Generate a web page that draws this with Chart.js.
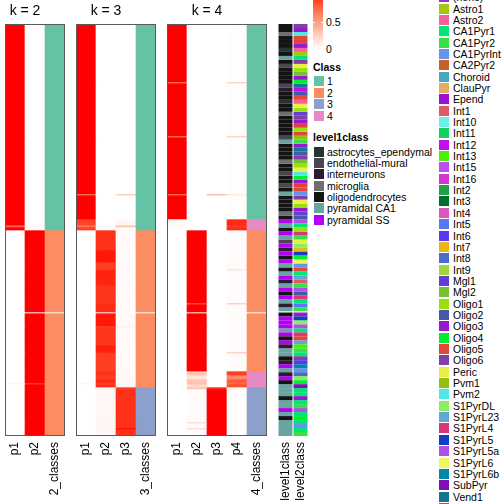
<!DOCTYPE html>
<html>
<head>
<meta charset="utf-8">
<script src="https://cdn.jsdelivr.net/npm/chart.js@4.4.1/dist/chart.umd.min.js"></script>
<style>
  body { margin: 0; background: #fff; }
  #wrap { position: relative; width: 504px; height: 504px; overflow: hidden; font-family: "Liberation Sans", Arial, sans-serif; }
  #wrap canvas { position: absolute; top: 0; }
  .lg { position: absolute; font-size: 10.5px; line-height: 12px; color: #000; white-space: nowrap; }
  .lg.bold { font-weight: bold; }
  .sw { position: absolute; width: 10px; height: 10px; }
</style>
</head>
<body>
<div id="wrap"></div>
<script>
// Globals.
const FONT = '"Liberation Sans", Arial, sans-serif';
const wrap = document.getElementById('wrap');

// Row blocks of the consensus heatmap (cells per block, top to bottom).
const segHeights = [58, 1, 53, 1, 57, 1, 24, 6, 2, 3, 20, 12, 7, 1, 15, 18, 1, 8, 1, 13, 1, 18, 7, 1, 18, 4, 4, 4, 1, 3, 2, 33, 1, 5, 1, 7];

// Membership probabilities per block, and class per block (0 = slice gap).
const k2p1 = [1, 1, 1, 1, 1, 1, 1, 1, 0.75, 1, 0, 0, 0, 0, 0, 0, 0, 0, 0, 0, 0, 0, 0, 0, 0, 0, 0, 0, 0.08, 0, 0, 0, 0, 0, 0, 0];
const k2p2 = [0, 0, 0, 0, 0, 0, 0, 0, 0.05, 0.02, 1, 1, 1, 1, 1, 1, 1, 1, 0, 1, 1, 1, 1, 1, 1, 1, 1, 1, 0.85, 1, 1, 1, 1, 1, 1, 1];
const k2cls = [1, 1, 1, 1, 1, 1, 1, 1, 1, 1, 2, 2, 2, 2, 2, 2, 2, 2, 0, 2, 2, 2, 2, 2, 2, 2, 2, 2, 2, 2, 2, 2, 2, 2, 2, 2];

const k3p1 = [1, 1, 1, 1, 1, 0.6, 1, 0.88, 0.7, 0.9, 0, 0, 0, 0, 0, 0, 0, 0, 0, 0, 0, 0, 0, 0, 0, 0, 0, 0, 0.06, 0, 0, 0, 0, 0, 0, 0];
const k3p2 = [0, 0, 0, 0, 0, 0, 0, 0, 0.05, 0, 0.93, 0.98, 0.9, 0.93, 0.96, 0.92, 0.93, 0.95, 0, 0.98, 0.85, 0.92, 0.97, 0.93, 0.9, 0.93, 0.9, 0.95, 0.85, 0.93, 0.05, 0.04, 0.05, 0.04, 0.08, 0.04];
const k3p3 = [0, 0, 0, 0, 0, 0.35, 0, 0.05, 0.3, 0.03, 0.03, 0.02, 0.03, 0.03, 0.02, 0.03, 0.03, 0.02, 0, 0.03, 0.1, 0.03, 0.02, 0.03, 0.03, 0.03, 0.04, 0.03, 0.05, 0.04, 0.9, 0.93, 0.93, 0.93, 1, 0.93];
const k3cls = [1, 1, 1, 1, 1, 1, 1, 1, 1, 1, 2, 2, 2, 2, 2, 2, 2, 2, 0, 2, 2, 2, 2, 2, 2, 2, 2, 2, 2, 2, 3, 3, 3, 3, 3, 3];

const k4p1 = [1, 0.6, 1, 0.6, 1, 0.6, 1, 0.03, 0.02, 0.03, 0, 0, 0, 0, 0, 0, 0, 0, 0, 0, 0, 0, 0, 0, 0, 0, 0, 0, 0, 0, 0, 0, 0, 0, 0, 0];
const k4p2 = [0, 0, 0, 0, 0, 0, 0, 0, 0, 0, 1, 1, 1, 1, 1, 1, 0.75, 1, 0, 1, 1, 1, 1, 1, 1, 0.3, 0.15, 0.3, 0.35, 0.2, 0.3, 0.02, 0.25, 0.02, 0.25, 0.02];
const k4p3 = [0, 0, 0, 0, 0, 0.45, 0, 0, 0, 0, 0, 0, 0, 0, 0, 0, 0, 0, 0, 0, 0, 0, 0, 0, 0, 0, 0, 0, 0, 0, 0.95, 1, 1, 1, 1, 1];
const k4p4 = [0.01, 0.3, 0.01, 0.3, 0.01, 0.15, 0.01, 0.95, 0.9, 0.95, 0.02, 0.02, 0.02, 0.2, 0.02, 0.02, 0.35, 0.02, 0, 0.02, 0.02, 0.02, 0.02, 0.35, 0.02, 0.9, 0.6, 0.8, 0.7, 0.85, 0.02, 0.01, 0.01, 0.01, 0.01, 0.01];
const k4cls = [1, 1, 1, 1, 1, 1, 1, 4, 4, 4, 2, 2, 2, 2, 2, 2, 2, 2, 0, 2, 2, 2, 2, 2, 2, 4, 4, 4, 4, 4, 3, 3, 3, 3, 3, 3];

// Cell annotations, one entry per stripe ('-' / -1 = slice gap).
const level1 = ('OOMOOOAOCO' + 'EOOOOEIOOA' + 'OOMOOOOOEC' + 'OOOOMOOEOO' + 'EOCOOOOMO' +
  'SCOSCESISO' + 'SCOCSICSOS' + 'CIC' + '-' +
  'OSSSCSOSIC' + 'COISCISOCC' + 'COCCSCOCCCC').split('');
const level2 = [32, 29, 35, 31, 45, 29, 2, 1, 3, 32, 33, 27, 26, 29, 30, 44, 13, 28, 31, 2,
  33, 27, 25, 32, 29, 45, 27, 31, 34, 4, 29, 44, 28, 32, 26, 27, 33, 35, 30, 29,
  45, 31, 5, 32, 33, 27, 29, 25, 28, 40, 3, 27, 38, 4, 33, 36, 22, 39, 30, 41,
  5, 31, 3, 37, 10, 4, 40, 28, 38, 3, 20, 4, -1,
  29, 39, 36, 40, 3, 38, 31, 37, 14, 4, 3, 32, 21, 42, 5, 23, 36, 30, 43, 3,
  3, 29, 3, 4, 40, 3, 30, 3, 5, 3, 4];

const classColors = ['#ffffff', '#66c2a5', '#fc8d62', '#8da0cb', '#e78ac3'];
const level1Codes = ['A', 'E', 'I', 'M', 'O', 'C', 'S'];
const level1Names = ['astrocytes_ependymal', 'endothelial-mural', 'interneurons', 'microglia', 'oligodendrocytes', 'pyramidal CA1', 'pyramidal SS'];
const level1Colors = ['#26342f', '#4b464e', '#2d1b33', '#6e6e73', '#141414', '#68a4a0', '#b300f7'];
const level2Names = ['(none)', 'Astro1', 'Astro2', 'CA1Pyr1', 'CA1Pyr2', 'CA1PyrInt', 'CA2Pyr2', 'Choroid', 'ClauPyr', 'Epend',
  'Int1', 'Int10', 'Int11', 'Int12', 'Int13', 'Int15', 'Int16', 'Int2', 'Int3', 'Int4', 'Int5', 'Int6', 'Int7', 'Int8', 'Int9',
  'Mgl1', 'Mgl2', 'Oligo1', 'Oligo2', 'Oligo3', 'Oligo4', 'Oligo5', 'Oligo6', 'Peric', 'Pvm1', 'Pvm2',
  'S1PyrDL', 'S1PyrL23', 'S1PyrL4', 'S1PyrL5', 'S1PyrL5a', 'S1PyrL6', 'S1PyrL6b', 'SubPyr', 'Vend1', 'Vend2'];
const level2Colors = ['#9a2fc0', '#a3c514', '#f7609b', '#00e676', '#38e048', '#6493e8', '#c46128', '#4aa8b8', '#e0b060', '#a010d0',
  '#e05a62', '#6ef0e8', '#10d060', '#c010ee', '#50ee00', '#bd4ef0', '#d038d0', '#20a048', '#007030', '#d858c0', '#5878f8', '#5838f0', '#e8b818', '#4a6ec8', '#a0d838',
  '#6040d0', '#78c030', '#98e010', '#4858a8', '#9818d0', '#00ee30', '#e04838', '#8040a8', '#e8f048', '#90c010', '#50e8e0',
  '#88f060', '#60a8d8', '#d83878', '#1040c0', '#b050e8', '#f0f860', '#0088a8', '#8010b8', '#107890', '#e04040'];

// White -> red ramp, interpolated in Lab like colorRamp2.
function probColor(v) {
  const L = 100 + (53.24 - 100) * v, a = 80.09 * v, b = 67.2 * v;
  const fy = (L + 16) / 116, fx = fy + a / 500, fz = fy - b / 200;
  const inv = t => t > 0.206893 ? t * t * t : (t - 16 / 116) / 7.787;
  const X = 0.95047 * inv(fx), Y = inv(fy), Z = 1.08883 * inv(fz);
  const lin = [3.2406 * X - 1.5372 * Y - 0.4986 * Z, -0.9689 * X + 1.8758 * Y + 0.0415 * Z, 0.0557 * X - 0.2040 * Y + 1.0570 * Z];
  const [r, g, bb] = lin.map(c => {
    c = Math.min(1, Math.max(0, c));
    return Math.round(255 * (c <= 0.0031308 ? 12.92 * c : 1.055 * Math.pow(c, 1 / 2.4) - 0.055));
  });
  return `rgb(${r},${g},${bb})`;
}

const panelTitle = {
  id: 'panelTitle',
  afterDraw(chart, args, opts) {
    if (!opts.text) return;
    const x = chart.scales.x;
    const cx = (x.getPixelForValue(0) + x.getPixelForValue(opts.span - 1)) / 2;
    const ctx = chart.ctx;
    ctx.save();
    ctx.font = `14px ${FONT}`;
    ctx.fillStyle = '#000';
    ctx.textAlign = 'center';
    ctx.textBaseline = 'middle';
    ctx.fillText(opts.text, cx, 11);
    ctx.restore();
  }
};

const panelBorder = {
  id: 'panelBorder',
  afterDatasetsDraw(chart, args, opts) {
    if (!opts.show) return;
    const {ctx, chartArea: a} = chart;
    ctx.save();
    ctx.strokeStyle = '#5a5a5a';
    ctx.lineWidth = 1;
    ctx.strokeRect(a.left + 0.5, a.top + 0.5, a.width - 1, a.height - 1);
    ctx.restore();
  }
};

function heatChart({left, colWidth, labels, heights, colors, title, span, border, barPct}) {
  const canvas = document.createElement('canvas');
  canvas.width = labels.length * colWidth;
  canvas.height = 504;
  canvas.style.left = left + 'px';
  wrap.appendChild(canvas);
  const total = heights.reduce((s, h) => s + h, 0);
  const datasets = heights.map((h, i) => ({
    data: labels.map(() => h),
    backgroundColor: colors.map(col => col[i]),
    borderWidth: 0,
    barPercentage: barPct,
    categoryPercentage: 1,
  }));
  return new Chart(canvas, {
    type: 'bar',
    data: {labels, datasets},
    plugins: [panelTitle, panelBorder],
    options: {
      responsive: false,
      animation: false,
      devicePixelRatio: 1,
      layout: {padding: {top: 24, left: 0, right: 0, bottom: 0}},
      plugins: {
        legend: {display: false},
        tooltip: {enabled: false},
        panelTitle: {text: title, span},
        panelBorder: {show: border},
      },
      scales: {
        x: {
          stacked: true,
          grid: {display: false, drawTicks: false},
          border: {display: false},
          ticks: {minRotation: 90, maxRotation: 90, autoSkip: false, padding: 6, color: '#000', font: {family: FONT, size: 12}},
          afterFit: (s) => { s.height = 68; s.paddingLeft = 0; s.paddingRight = 0; },
        },
        y: {stacked: true, display: false, reverse: true, min: 0, max: total},
      },
    },
  });
}

const panels = [
  {title: 'k = 2', left: 5, labels: ['p1', 'p2', '2_classes'], probs: [k2p1, k2p2], cls: k2cls},
  {title: 'k = 3', left: 76, labels: ['p1', 'p2', 'p3', '3_classes'], probs: [k3p1, k3p2, k3p3], cls: k3cls},
  {title: 'k = 4', left: 167, labels: ['p1', 'p2', 'p3', 'p4', '4_classes'], probs: [k4p1, k4p2, k4p3, k4p4], cls: k4cls},
];
panels.forEach(p => {
  const colors = [...p.probs.map(vals => vals.map((v, i) => p.cls[i] === 0 ? '#ffffff' : probColor(v))), p.cls.map(c => classColors[c])];
  heatChart({left: p.left, colWidth: 20, labels: p.labels, heights: segHeights, colors, title: p.title, span: p.probs.length, border: true, barPct: 1});
});

// Annotation columns.
const annHeights = level1.map(c => c === '-' ? 1 : 4);
heatChart({
  left: 278, colWidth: 15, labels: ['level1class', 'level2class'], heights: annHeights,
  colors: [
    level1.map(c => c === '-' ? '#ffffff' : level1Colors[level1Codes.indexOf(c)]),
    level2.map(i => i < 0 ? '#ffffff' : level2Colors[i]),
  ],
  title: null, span: 0, border: false, barPct: 0.93,
});

// Legends.
function addDiv(cls, style, text) {
  const d = document.createElement('div');
  d.className = cls;
  Object.assign(d.style, style);
  if (text != null) d.textContent = text;
  wrap.appendChild(d);
  return d;
}

const stops = [];
for (let t = 0; t <= 10; t++) stops.push(`${probColor(1 - t / 10)} ${t * 10}%`);
addDiv('sw', {left: '313px', top: '-5px', height: '54px', background: `linear-gradient(to bottom, ${stops.join(', ')})`});
addDiv('sw', {left: '313px', top: '22px', width: '2px', height: '1px', background: '#fff'});
addDiv('sw', {left: '321px', top: '22px', width: '2px', height: '1px', background: '#fff'});
addDiv('lg', {left: '326px', top: '16px'}, '0.5');
addDiv('lg', {left: '326px', top: '43px'}, '0');

addDiv('lg bold', {left: '313px', top: '61px'}, 'Class');
['1', '2', '3', '4'].forEach((name, i) => {
  const cy = 81 + 11.5 * i;
  addDiv('sw', {left: '314px', top: (cy - 5) + 'px', background: classColors[i + 1]});
  addDiv('lg', {left: '327px', top: (cy - 6) + 'px'}, name);
});

addDiv('lg bold', {left: '313px', top: '131px'}, 'level1class');
level1Names.forEach((name, i) => {
  const cy = 151.7 + 11.35 * i;
  addDiv('sw', {left: '314px', top: (cy - 5) + 'px', background: level1Colors[i]});
  addDiv('lg', {left: '327px', top: (cy - 6) + 'px'}, name);
});

level2Names.forEach((name, i) => {
  const cy = -2.85 + 11.35 * i;
  addDiv('sw', {left: '439px', top: (cy - 5) + 'px', background: level2Colors[i]});
  addDiv('lg', {left: '453px', top: (cy - 6) + 'px'}, name);
});
</script>
</body>
</html>
